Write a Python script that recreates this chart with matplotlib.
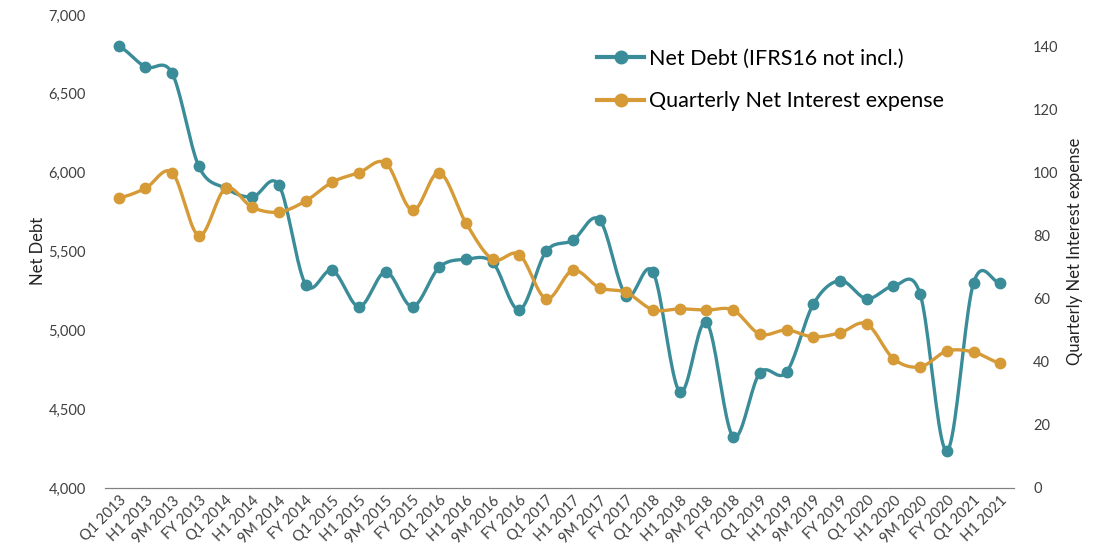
import numpy as np
import matplotlib.pyplot as plt

periods = ['Q1 2013', 'H1 2013', '9M 2013', 'FY 2013',
           'Q1 2014', 'H1 2014', '9M 2014', 'FY 2014',
           'Q1 2015', 'H1 2015', '9M 2015', 'FY 2015',
           'Q1 2016', 'H1 2016', '9M 2016', 'FY 2016',
           'Q1 2017', 'H1 2017', '9M 2017', 'FY 2017',
           'Q1 2018', 'H1 2018', '9M 2018', 'FY 2018',
           'Q1 2019', 'H1 2019', '9M 2019', 'FY 2019',
           'Q1 2020', 'H1 2020', '9M 2020', 'FY 2020',
           'Q1 2021', 'H1 2021']

net_debt = [6800, 6670, 6630, 6040,
            5900, 5845, 5920, 5290,
            5380, 5150, 5370, 5150,
            5400, 5450, 5430, 5130,
            5500, 5570, 5700, 5220,
            5370, 4610, 5050, 4325,
            4730, 4735, 5165, 5315,
            5200, 5280, 5230, 4235,
            5300, 5300]

interest = [92, 95, 100, 80,
            95, 89, 87.5, 91,
            97, 100, 103, 88,
            100, 84, 72.5, 74,
            60, 69, 63.5, 62,
            56.5, 56.8, 56.4, 56.4,
            48.8, 50.1, 47.9, 49.2,
            52, 41, 38.4, 43.4,
            43.1, 39.6]

teal = '#3A8C98'
gold = '#D69A36'
txt = '#404040'

plt.rcParams['font.family'] = ['Lato', 'DejaVu Sans']


def smooth(y, n=20):
    # Catmull-Rom style smoothing for the line (like Excel "smoothed line")
    y = np.asarray(y, dtype=float)
    x = np.arange(len(y), dtype=float)
    p = np.concatenate([[y[0]], y, [y[-1]]])
    xs, ys = [], []
    for i in range(len(y) - 1):
        p0, p1, p2, p3 = p[i], p[i + 1], p[i + 2], p[i + 3]
        t = np.linspace(0, 1, n, endpoint=False)
        yy = 0.5 * ((2 * p1) + (-p0 + p2) * t + (2 * p0 - 5 * p1 + 4 * p2 - p3) * t**2
                    + (-p0 + 3 * p1 - 3 * p2 + p3) * t**3)
        xs.append(x[i] + t)
        ys.append(yy)
    xs.append([x[-1]])
    ys.append([y[-1]])
    return np.concatenate(xs), np.concatenate(ys)


fig = plt.figure(figsize=(10.97, 5.52), dpi=100)
ax = fig.add_axes([0.096, 0.116, 0.828, 0.857])
ax2 = ax.twinx()

x = np.arange(len(periods))
sx, sy = smooth(net_debt)
ax.plot(sx, sy, color=teal, lw=2.4, zorder=3)
ax.plot(x, net_debt, 'o', color=teal, ms=7.5, zorder=4)
sx2, sy2 = smooth(interest)
ax2.plot(sx2, sy2, color=gold, lw=2.4)
ax2.plot(x, interest, 'o', color=gold, ms=7.5)

ax.set_xlim(-0.5, len(periods) - 0.5)
ax.set_ylim(4000, 7000)
ax.set_yticks(range(4000, 7001, 500))
ax.set_yticklabels([f'{v:,}' for v in range(4000, 7001, 500)])
ax2.set_ylim(0, 150)
ax2.set_yticks(range(0, 141, 20))

ax.set_xticks(x)
ax.set_xticklabels(periods, rotation=45, ha='right', rotation_mode='anchor', fontsize=9, color=txt)

for a in (ax, ax2):
    for s in ('top', 'left', 'right'):
        a.spines[s].set_visible(False)
    a.spines['bottom'].set_color('#808080')
    a.tick_params(length=0, labelsize=10.5, labelcolor=txt)
ax.tick_params(axis='y', pad=14)
ax2.tick_params(axis='y', pad=14)
ax.tick_params(axis='x', pad=4)

ax.set_ylabel('Net Debt', fontsize=12, color='#222222', labelpad=2)
ax2.set_ylabel('Quarterly Net Interest expense', fontsize=12, color='#222222', labelpad=6)

h1 = ax.plot([], [], '-o', color=teal, lw=3, ms=9)[0]
h2 = ax.plot([], [], '-o', color=gold, lw=3, ms=9)[0]
ax.legend([h1, h2], ['Net Debt (IFRS16 not incl.)', 'Quarterly Net Interest expense'],
          loc='upper left', bbox_to_anchor=(0.52, 0.97), frameon=False, fontsize=15.5,
          handlelength=2.2, handletextpad=0.2, labelspacing=1.05)

fig.savefig('out.png', dpi=100)
